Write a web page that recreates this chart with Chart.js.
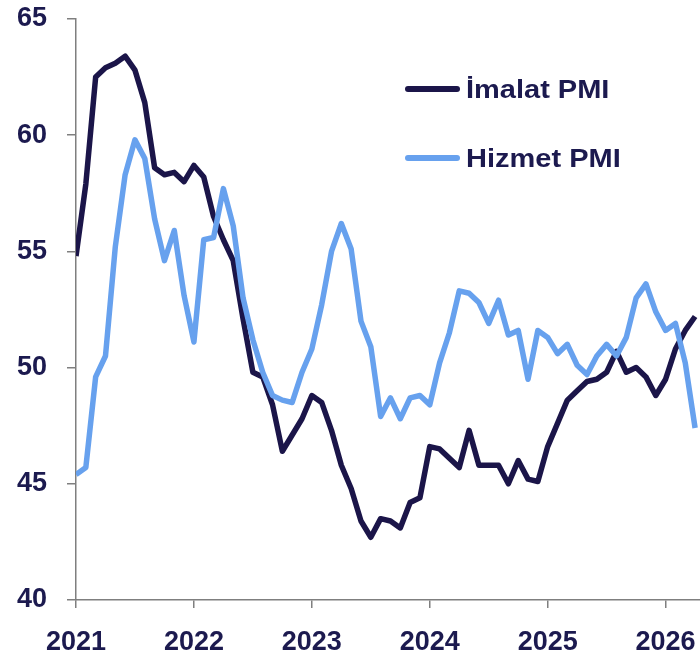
<!DOCTYPE html>
<html>
<head>
<meta charset="utf-8">
<script src="https://cdn.jsdelivr.net/npm/chart.js@4.4.1/dist/chart.umd.min.js"></script>
<style>
  html, body { margin: 0; padding: 0; background: #ffffff; }
  #wrap { position: relative; width: 700px; height: 654px; }
  canvas { display: block; }
  .leg { position: absolute; left: 405px; height: 30px; }
  .leg .ln { position: absolute; left: 0; top: 12px; width: 55px; height: 6px; border-radius: 3px; }
  .leg .tx { position: absolute; left: 61px; top: 0; font-family: "Liberation Sans", Arial, sans-serif; font-weight: bold;
             font-size: 25px; line-height: 30px; color: #1c1a4f; white-space: nowrap; transform: scaleX(1.16); transform-origin: 0 50%; }
</style>
</head>
<body>
<div id="wrap">
  <canvas id="c" width="700" height="654"></canvas>
  <div class="leg" style="top:74px"><div class="ln" style="background:#1b1549"></div><div class="tx" id="l0"></div></div>
  <div class="leg" style="top:143px"><div class="ln" style="background:#67a1ee"></div><div class="tx" id="l1"></div></div>
</div>
<script>
const seriesNames = ["İmalat PMI", "Hizmet PMI"];
const yearLabels = ["2021", "2022", "2023", "2024", "2025", "2026"];
// Monthly values, Jan 2021 – Apr 2026
const imalat = [
  54.8, 57.9, 62.5, 62.9, 63.1, 63.4, 62.8, 61.4, 58.6, 58.3, 58.4, 58.0,
  58.7, 58.2, 56.5, 55.5, 54.6, 52.1, 49.8, 49.6, 48.4, 46.4, 47.1, 47.8,
  48.8, 48.5, 47.3, 45.8, 44.8, 43.4, 42.7, 43.5, 43.4, 43.1, 44.2, 44.4,
  46.6, 46.5, 46.1, 45.7, 47.3, 45.8, 45.8, 45.8, 45.0, 46.0, 45.2, 45.1,
  46.6, 47.6, 48.6, 49.0, 49.4, 49.5, 49.8, 50.7, 49.8, 50.0, 49.6, 48.8,
  49.5, 50.8, 51.6, 52.2
];
const hizmet = [
  45.4, 45.7, 49.6, 50.5, 55.2, 58.3, 59.8, 59.0, 56.4, 54.6, 55.9, 53.1,
  51.1, 55.5, 55.6, 57.7, 56.1, 53.0, 51.2, 49.8, 48.8, 48.6, 48.5, 49.8,
  50.8, 52.7, 55.0, 56.2, 55.1, 52.0, 50.9, 47.9, 48.7, 47.8, 48.7, 48.8,
  48.4, 50.2, 51.5, 53.3, 53.2, 52.8, 51.9, 52.9, 51.4, 51.6, 49.5, 51.6,
  51.3, 50.6, 51.0, 50.1, 49.7, 50.5, 51.0, 50.5, 51.3, 53.0, 53.6, 52.4,
  51.6, 51.9, 50.2, 47.4
];
const yTicks = [40, 45, 50, 55, 60, 65];

document.getElementById('l0').textContent = seriesNames[0];
document.getElementById('l1').textContent = seriesNames[1];

const toPts = arr => arr.map((v, i) => ({ x: i, y: v }));
const textColor = '#1c1a4f';
const axisColor = '#7f7f7f';
const tickFont = { family: '"Liberation Sans", Arial, sans-serif', weight: 'bold', size: 27 };

new Chart(document.getElementById('c'), {
  type: 'line',
  data: {
    datasets: [
      { label: seriesNames[1], data: toPts(hizmet), borderColor: '#67a1ee', borderWidth: 5.5,
        pointRadius: 0, tension: 0, borderJoinStyle: 'round', borderCapStyle: 'butt', fill: false },
      { label: seriesNames[0], data: toPts(imalat), borderColor: '#1b1549', borderWidth: 5.5,
        pointRadius: 0, tension: 0, borderJoinStyle: 'round', borderCapStyle: 'butt', fill: false }
    ]
  },
  options: {
    responsive: false,
    animation: false,
    devicePixelRatio: 1,
    layout: { padding: { top: 19, left: 0, right: 0, bottom: 0 } },
    plugins: { legend: { display: false }, tooltip: { enabled: false } },
    scales: {
      x: {
        type: 'linear', min: 0, max: 63.5,
        afterBuildTicks: s => { s.ticks = yearLabels.map((_, i) => ({ value: i * 12 })); },
        afterFit: s => { s.height = 54; s.paddingLeft = 0; s.paddingRight = 0; },
        ticks: { color: textColor, font: tickFont, padding: 18, maxRotation: 0, autoSkip: false,
                 callback: (v) => yearLabels[Math.round(v / 12)] },
        grid: { display: true, drawOnChartArea: false, drawTicks: true, tickLength: 8, color: axisColor, lineWidth: 1.5 },
        border: { display: true, color: axisColor, width: 1.5 }
      },
      y: {
        min: 40, max: 65,
        afterBuildTicks: s => { s.ticks = yTicks.map(v => ({ value: v })); },
        afterFit: s => { s.width = 76; s.paddingTop = 0; s.paddingBottom = 0; },
        ticks: { color: textColor, font: tickFont, padding: 20 },
        grid: { display: true, drawOnChartArea: false, drawTicks: true, tickLength: 9, color: axisColor, lineWidth: 1.5 },
        border: { display: true, color: axisColor, width: 1.5 }
      }
    }
  }
});
</script>
</body>
</html>
